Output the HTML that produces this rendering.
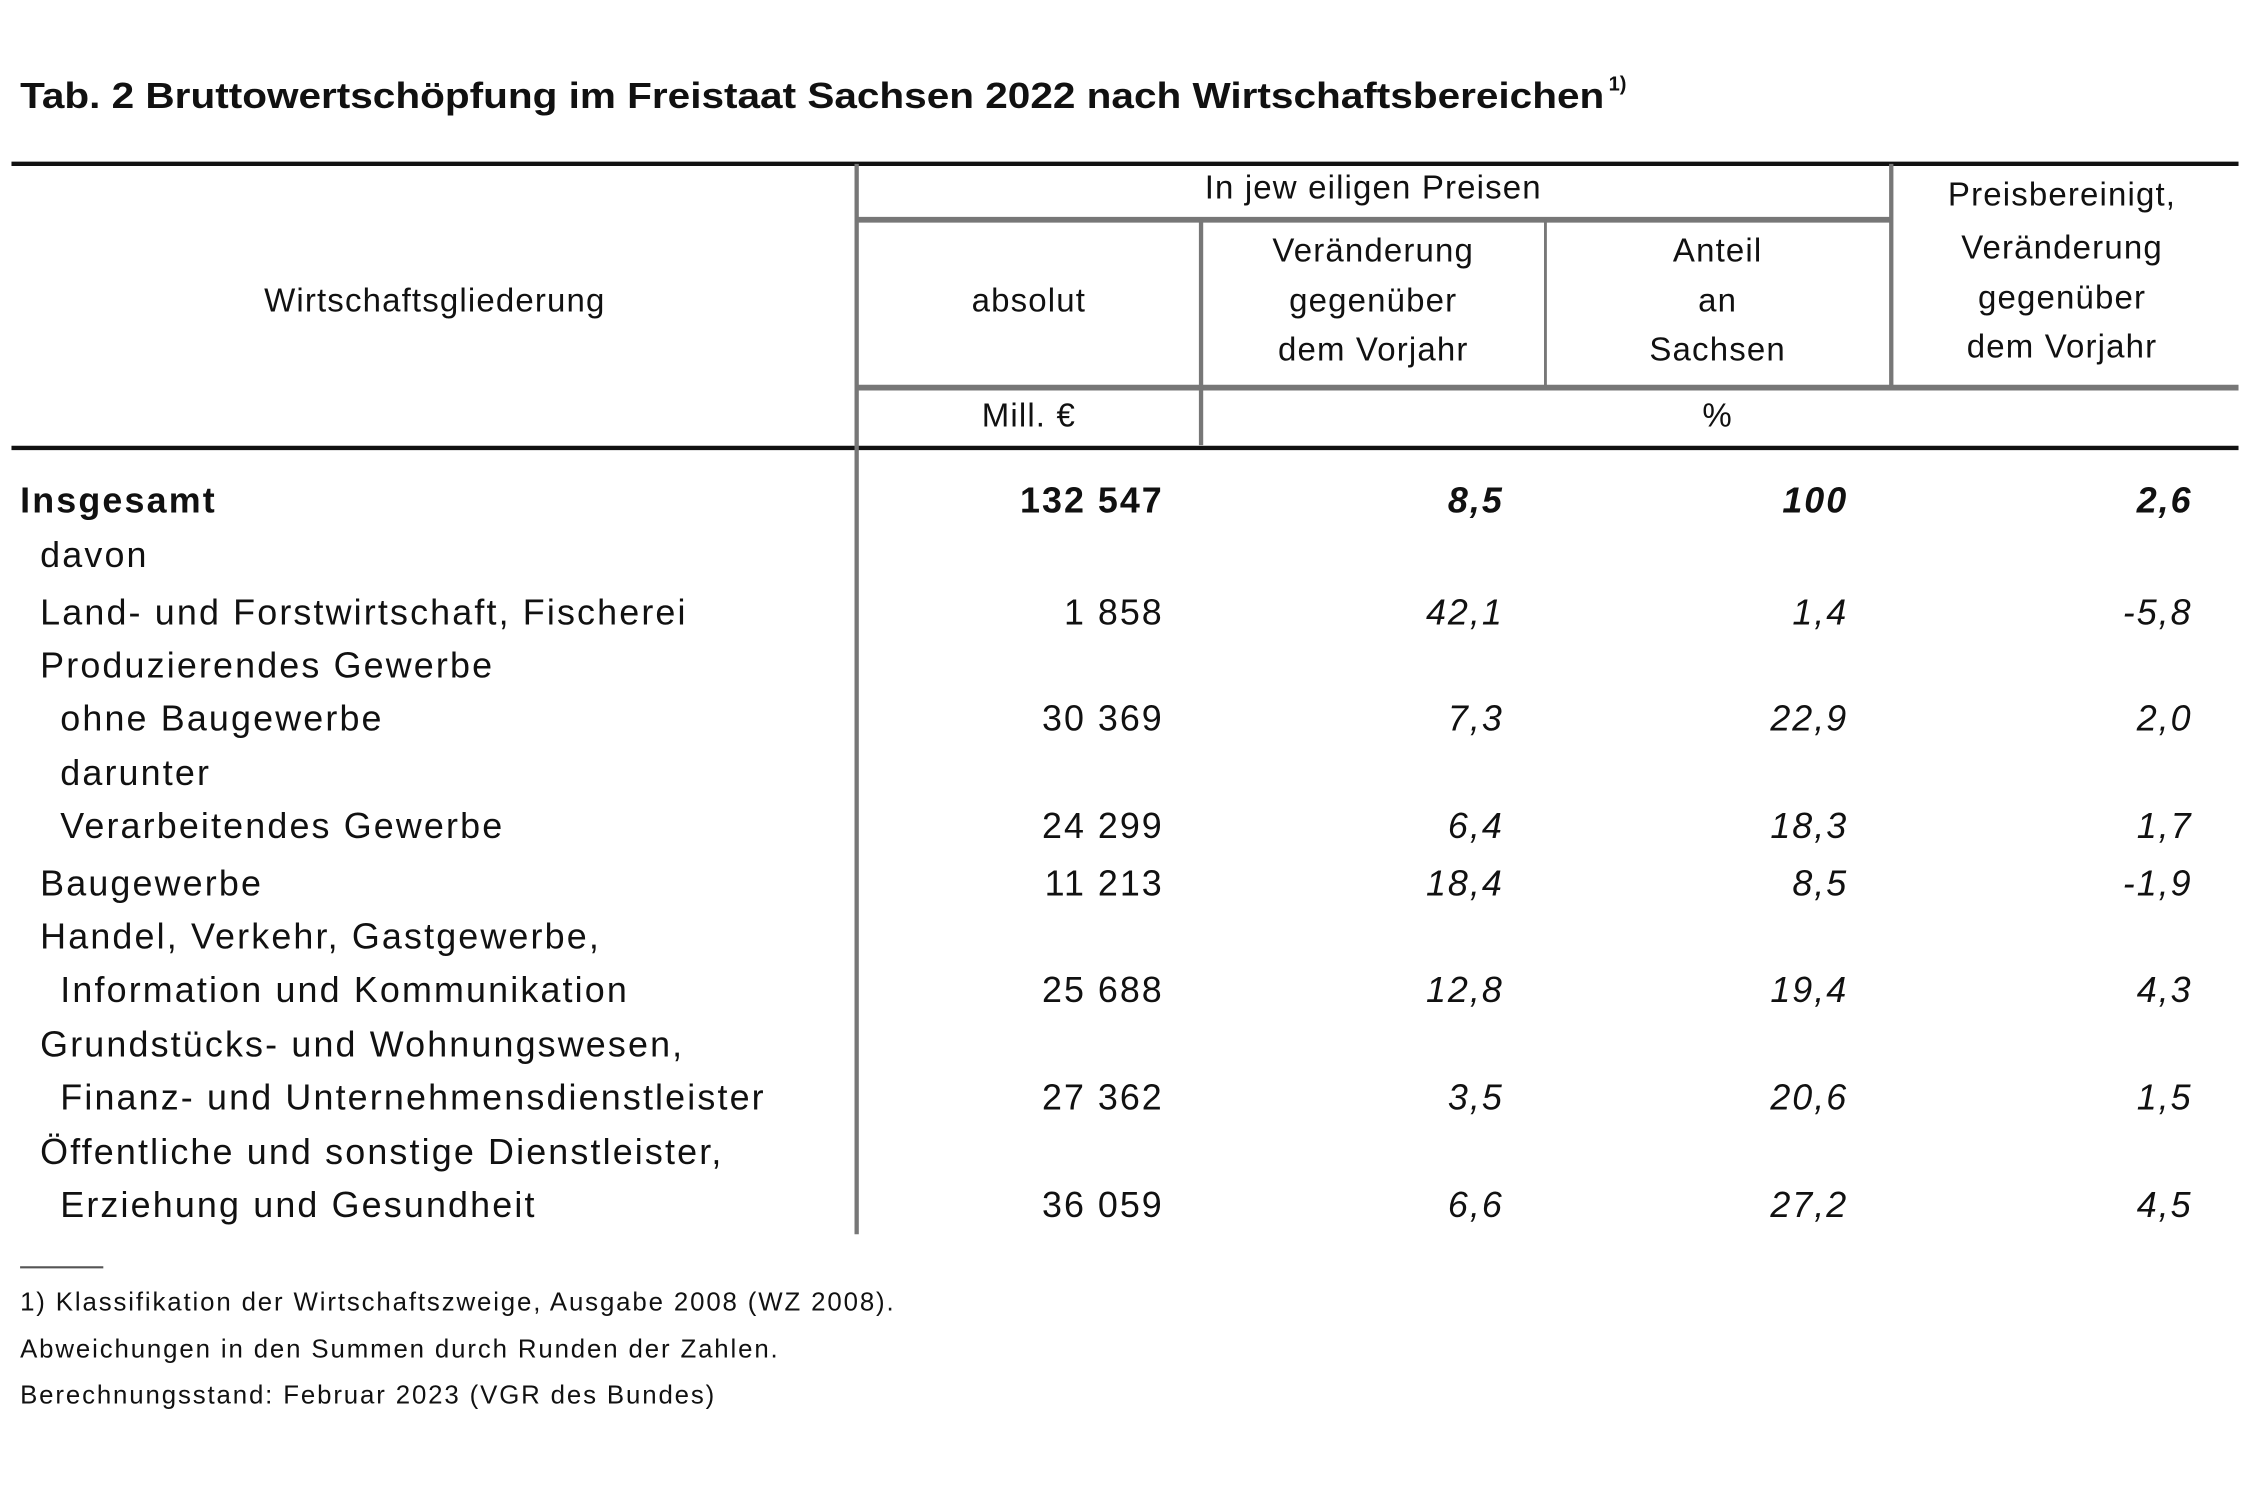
<!DOCTYPE html>
<html><head><meta charset="utf-8"><style>
html,body{margin:0;padding:0;background:#fff;}
svg{display:block;}
text{font-family:"Liberation Sans",Arial,sans-serif;fill:#111;}
.h{font-size:23px;text-anchor:middle;letter-spacing:0.8px;}
.r{font-size:25px;letter-spacing:1.5px;}
.n{font-size:25px;text-anchor:end;letter-spacing:1.4px;}
.i{font-style:italic;}
.b{font-weight:bold;}
.f{font-size:18px;letter-spacing:1.3px;}
</style></head><body>
<svg width="2250" height="1500" viewBox="0 0 1568 1045" xmlns="http://www.w3.org/2000/svg">
<rect width="1568" height="1045" fill="#fff"/>
<text x="14" y="75" class="b" font-size="25" textLength="1104" lengthAdjust="spacingAndGlyphs">Tab. 2  Bruttowertschöpfung im Freistaat Sachsen 2022 nach Wirtschaftsbereichen</text>
<text x="1121" y="63" class="b" font-size="14">1)</text>
<line x1="8" y1="114" x2="1560" y2="114" stroke="#111" stroke-width="3"/>
<line x1="8" y1="312" x2="1560" y2="312" stroke="#111" stroke-width="3"/>
<line x1="597" y1="114" x2="597" y2="860" stroke="#777" stroke-width="3"/>
<line x1="597" y1="153" x2="1318" y2="153" stroke="#777" stroke-width="4"/>
<line x1="597" y1="270" x2="1560" y2="270" stroke="#777" stroke-width="4"/>
<line x1="837" y1="153" x2="837" y2="310" stroke="#777" stroke-width="3"/>
<line x1="1077" y1="153" x2="1077" y2="270" stroke="#777" stroke-width="2"/>
<line x1="1318" y1="114" x2="1318" y2="270" stroke="#777" stroke-width="3"/>
<line x1="14" y1="883" x2="72" y2="883" stroke="#555" stroke-width="1.5"/>
<text class="h" x="957" y="138">In jew eiligen Preisen</text>
<text class="h" x="303" y="217">Wirtschaftsgliederung</text>
<text class="h" x="717" y="217">absolut</text>
<text class="h" x="957" y="182">Veränderung</text>
<text class="h" x="957" y="217">gegenüber</text>
<text class="h" x="957" y="251">dem Vorjahr</text>
<text class="h" x="1197" y="182">Anteil</text>
<text class="h" x="1197" y="217">an</text>
<text class="h" x="1197" y="251">Sachsen</text>
<text class="h" x="1437" y="143">Preisbereinigt,</text>
<text class="h" x="1437" y="180">Veränderung</text>
<text class="h" x="1437" y="215">gegenüber</text>
<text class="h" x="1437" y="249">dem Vorjahr</text>
<text class="h" x="717" y="297">Mill. €</text>
<text class="h" x="1197" y="297">%</text>
<text class="r b" x="14" y="357">Insgesamt</text>
<text class="n b" x="811" y="357">132 547</text>
<text class="n b i" x="1048" y="357">8,5</text>
<text class="n b i" x="1288" y="357">100</text>
<text class="n b i" x="1528" y="357">2,6</text>
<text class="r" x="28" y="395">davon</text>
<text class="r" x="28" y="435">Land- und Forstwirtschaft, Fischerei</text>
<text class="n" x="811" y="435">1 858</text>
<text class="n i" x="1048" y="435">42,1</text>
<text class="n i" x="1288" y="435">1,4</text>
<text class="n i" x="1528" y="435">-5,8</text>
<text class="r" x="28" y="472">Produzierendes Gewerbe</text>
<text class="r" x="42" y="509">ohne Baugewerbe</text>
<text class="n" x="811" y="509">30 369</text>
<text class="n i" x="1048" y="509">7,3</text>
<text class="n i" x="1288" y="509">22,9</text>
<text class="n i" x="1528" y="509">2,0</text>
<text class="r" x="42" y="547">darunter</text>
<text class="r" x="42" y="584">Verarbeitendes Gewerbe</text>
<text class="n" x="811" y="584">24 299</text>
<text class="n i" x="1048" y="584">6,4</text>
<text class="n i" x="1288" y="584">18,3</text>
<text class="n i" x="1528" y="584">1,7</text>
<text class="r" x="28" y="624">Baugewerbe</text>
<text class="n" x="811" y="624">11 213</text>
<text class="n i" x="1048" y="624">18,4</text>
<text class="n i" x="1288" y="624">8,5</text>
<text class="n i" x="1528" y="624">-1,9</text>
<text class="r" x="28" y="661">Handel, Verkehr, Gastgewerbe,</text>
<text class="r" x="42" y="698">Information und Kommunikation</text>
<text class="n" x="811" y="698">25 688</text>
<text class="n i" x="1048" y="698">12,8</text>
<text class="n i" x="1288" y="698">19,4</text>
<text class="n i" x="1528" y="698">4,3</text>
<text class="r" x="28" y="736">Grundstücks- und Wohnungswesen,</text>
<text class="r" x="42" y="773">Finanz- und Unternehmensdienstleister</text>
<text class="n" x="811" y="773">27 362</text>
<text class="n i" x="1048" y="773">3,5</text>
<text class="n i" x="1288" y="773">20,6</text>
<text class="n i" x="1528" y="773">1,5</text>
<text class="r" x="28" y="811">Öffentliche und sonstige Dienstleister,</text>
<text class="r" x="42" y="848">Erziehung und Gesundheit</text>
<text class="n" x="811" y="848">36 059</text>
<text class="n i" x="1048" y="848">6,6</text>
<text class="n i" x="1288" y="848">27,2</text>
<text class="n i" x="1528" y="848">4,5</text>
<text class="f" x="14" y="913">1) Klassifikation der Wirtschaftszweige, Ausgabe 2008 (WZ 2008).</text>
<text class="f" x="14" y="946">Abweichungen in den Summen durch Runden der Zahlen.</text>
<text class="f" x="14" y="978">Berechnungsstand: Februar 2023 (VGR des Bundes)</text>
</svg>
</body></html>
